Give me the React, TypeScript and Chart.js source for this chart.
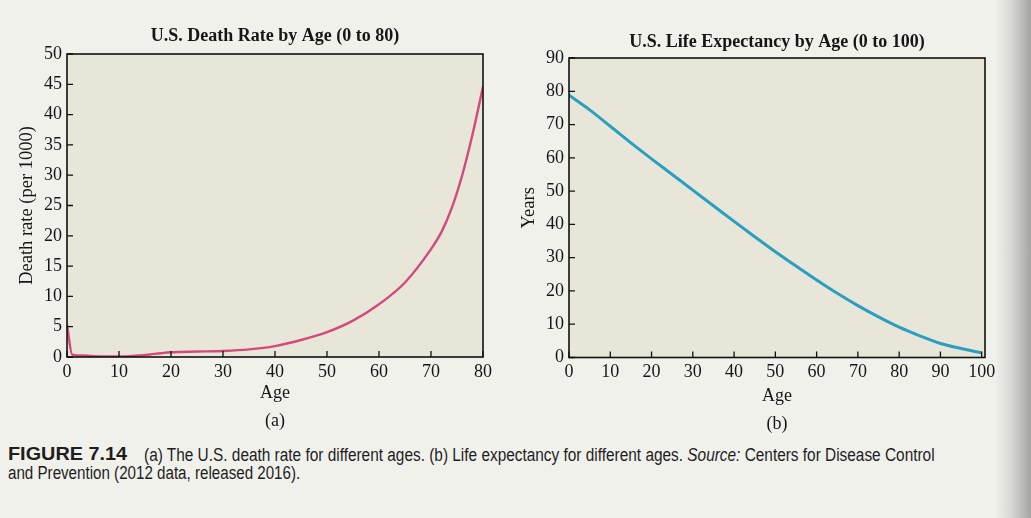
import React, { useEffect, useLayoutEffect, useRef } from 'react';
import { Chart, registerables } from 'chart.js';

Chart.register(...registerables);

// ---------- data ----------
const deathAges = [0, 1, 3, 5, 8, 10, 12, 14, 16, 18, 20, 25, 30, 35, 40, 45, 50, 55, 60, 65, 70, 72, 74, 76, 78, 80];
const deathRates = [5.3, 0.4, 0.25, 0.15, 0.1, 0.1, 0.14, 0.24, 0.42, 0.62, 0.78, 0.9, 1.0, 1.25, 1.8, 2.8, 4.1, 6.0, 8.7, 12.3, 17.8, 20.6, 24.6, 30.0, 36.8, 44.6];

const lifeAges = [0, 5, 10, 15, 20, 25, 30, 35, 40, 45, 50, 55, 60, 65, 70, 75, 80, 85, 90, 95, 100];
const lifeYears = [78.8, 74.4, 69.5, 64.5, 59.7, 55.0, 50.3, 45.6, 40.9, 36.3, 31.8, 27.5, 23.3, 19.3, 15.6, 12.2, 9.1, 6.5, 4.2, 2.7, 1.4];

const deathRateTicks = [0, 5, 10, 15, 20, 25, 30, 35, 40, 45, 50];
const ageTicksA = [0, 10, 20, 30, 40, 50, 60, 70, 80];
const yearsTicks = [0, 10, 20, 30, 40, 50, 60, 70, 80, 90];
const ageTicksB = [0, 10, 20, 30, 40, 50, 60, 70, 80, 90, 100];

const titleA = 'U.S. Death Rate by Age (0 to 80)';
const titleB = 'U.S. Life Expectancy by Age (0 to 100)';
const yLabelA = 'Death rate (per 1000)';
const yLabelB = 'Years';
const xLabel = 'Age';

// ---------- styles ----------
const SERIF = "'Liberation Serif', 'DejaVu Serif', serif";
const TEXT = '#161616';
const PLOT_BG = '#e7e6d9';
const PAGE_BG = '#f1f1ec';

const framePlugin = {
  id: 'frame',
  beforeDatasetsDraw(chart: any) {
    const { ctx, chartArea: a } = chart;
    ctx.save();
    ctx.fillStyle = PLOT_BG;
    ctx.fillRect(a.left, a.top, a.right - a.left, a.bottom - a.top);
    ctx.restore();
  },
  afterDraw(chart: any) {
    const { ctx, chartArea: a, scales } = chart;
    ctx.save();
    ctx.strokeStyle = '#111';
    ctx.lineWidth = 1.6;
    ctx.strokeRect(a.left, a.top, a.right - a.left, a.bottom - a.top);
    ctx.lineWidth = 1.3;
    ctx.beginPath();
    for (const t of scales.x.ticks) {
      const px = scales.x.getPixelForValue(t.value);
      ctx.moveTo(px, a.bottom);
      ctx.lineTo(px, a.bottom - 6);
    }
    for (const t of scales.y.ticks) {
      const py = scales.y.getPixelForValue(t.value);
      ctx.moveTo(a.left, py);
      ctx.lineTo(a.left + 6, py);
    }
    ctx.stroke();
    ctx.restore();
  },
};

type Spec = {
  xs: number[];
  ys: number[];
  color: string;
  width: number;
  title: string;
  titlePad: { top: number; bottom: number };
  yLabel: string;
  yLabelPad: number;
  xLabelLines: string[];
  xLabelPadBottom: number;
  xTicks: number[];
  yTicks: number[];
  xMax: number;
  yMax: number;
  yScaleWidth: number;
  xScaleHeight: number;
  padRight: number;
  canvasW: number;
  canvasH: number;
};

function LineChart({ spec, left }: { spec: Spec; left: number }) {
  const ref = useRef<HTMLCanvasElement | null>(null);
  useEffect(() => {
    if (!ref.current) return;
    const s = spec;
    const chart = new Chart(ref.current, {
      type: 'line',
      data: {
        datasets: [
          {
            data: s.xs.map((x, i) => ({ x, y: s.ys[i] })),
            borderColor: s.color,
            borderWidth: s.width,
            pointRadius: 0,
            fill: false,
            cubicInterpolationMode: 'monotone',
          },
        ],
      },
      options: {
        animation: false,
        responsive: false,
        devicePixelRatio: 1,
        events: [],
        layout: { padding: { left: 0, right: s.padRight, top: 0, bottom: 0 } },
        plugins: {
          legend: { display: false },
          tooltip: { enabled: false },
          title: {
            display: true,
            text: s.title,
            fullSize: false,
            color: TEXT,
            font: { family: SERIF, size: 18, weight: 'bold', lineHeight: 1.2 },
            padding: s.titlePad,
          },
        },
        scales: {
          x: {
            type: 'linear',
            min: 0,
            max: s.xMax,
            afterBuildTicks: (sc: any) => {
              sc.ticks = s.xTicks.map((v) => ({ value: v }));
            },
            afterFit: (sc: any) => {
              sc.height = s.xScaleHeight;
            },
            grid: { display: false, drawTicks: false },
            border: { display: false },
            ticks: {
              color: TEXT,
              padding: 4,
              maxRotation: 0,
              autoSkip: false,
              font: { family: SERIF, size: 18 },
            },
            title: {
              display: true,
              text: s.xLabelLines,
              color: TEXT,
              font: { family: SERIF, size: 18, lineHeight: 28 / 18 },
              padding: { top: 0, bottom: s.xLabelPadBottom },
            },
          },
          y: {
            type: 'linear',
            min: 0,
            max: s.yMax,
            afterBuildTicks: (sc: any) => {
              sc.ticks = s.yTicks.map((v) => ({ value: v }));
            },
            afterFit: (sc: any) => {
              sc.width = s.yScaleWidth;
            },
            grid: { display: false, drawTicks: false },
            border: { display: false },
            ticks: {
              color: TEXT,
              padding: 5,
              autoSkip: false,
              font: { family: SERIF, size: 18 },
            },
            title: {
              display: true,
              text: s.yLabel,
              color: TEXT,
              font: { family: SERIF, size: 18.5, lineHeight: 1.2 },
              padding: { top: s.yLabelPad, bottom: 0 },
            },
          },
        },
      },
      plugins: [framePlugin],
    } as any);
    return () => chart.destroy();
  }, [spec]);
  return (
    <canvas
      ref={ref}
      width={spec.canvasW}
      height={spec.canvasH}
      style={{ position: 'absolute', left, top: 0, width: spec.canvasW, height: spec.canvasH }}
    />
  );
}

function FitText({ x, y, width, children, style }: { x: number; y: number; width: number; children: React.ReactNode; style?: React.CSSProperties }) {
  const ref = useRef<HTMLDivElement | null>(null);
  useLayoutEffect(() => {
    const el = ref.current;
    if (!el) return;
    el.style.transform = 'none';
    const w = el.offsetWidth;
    if (w > 0) el.style.transform = `scaleX(${width / w})`;
  });
  return (
    <div
      ref={ref}
      style={{
        position: 'absolute',
        left: x,
        top: y,
        whiteSpace: 'nowrap',
        transformOrigin: 'left top',
        fontFamily: "'Liberation Sans', Arial, sans-serif",
        fontSize: 18,
        lineHeight: '20px',
        color: '#1e1e1e',
        ...style,
      }}
    >
      {children}
    </div>
  );
}

const specA: Spec = {
  xs: deathAges,
  ys: deathRates,
  color: '#d2497a',
  width: 2.4,
  title: titleA,
  titlePad: { top: 25.5, bottom: 6.9 },
  yLabel: yLabelA,
  yLabelPad: 15.8,
  xLabelLines: [xLabel, '(a)'],
  xLabelPadBottom: 5,
  xTicks: ageTicksA,
  yTicks: deathRateTicks,
  xMax: 80,
  yMax: 50,
  yScaleWidth: 67,
  xScaleHeight: 83,
  padRight: 32,
  canvasW: 515,
  canvasH: 440,
};

const specB: Spec = {
  xs: lifeAges,
  ys: lifeYears,
  color: '#2b9fc0',
  width: 3,
  title: titleB,
  titlePad: { top: 31.5, bottom: 4.9 },
  yLabel: yLabelB,
  yLabelPad: 3.3,
  xLabelLines: [xLabel, '(b)'],
  xLabelPadBottom: 2,
  xTicks: ageTicksB,
  yTicks: yearsTicks,
  xMax: 100.8,
  yMax: 90,
  yScaleWidth: 54,
  xScaleHeight: 82.5,
  padRight: 46,
  canvasW: 516,
  canvasH: 440,
};

export default function App() {
  useEffect(() => {
    document.body.style.margin = '0';
  }, []);
  return (
    <div
      style={{
        position: 'fixed',
        left: 0,
        top: 0,
        width: 1031,
        height: 518,
        overflow: 'hidden',
        background: `linear-gradient(to right, ${PAGE_BG} 0px, ${PAGE_BG} 995px, #d6d6d2 1012px, #a4a4a2 1031px)`,
      }}
    >
      <LineChart spec={specA} left={0} />
      <LineChart spec={specB} left={515} />
      <FitText x={8} y={444} width={119} style={{ fontWeight: 'bold', fontSize: 19 }}>
        FIGURE 7.14
      </FitText>
      <FitText x={144} y={445} width={791}>
        (a) The U.S. death rate for different ages. (b) Life expectancy for different ages. <i>Source:</i> Centers for Disease Control
      </FitText>
      <FitText x={8} y={463} width={292}>
        and Prevention (2012 data, released 2016).
      </FitText>
    </div>
  );
}
